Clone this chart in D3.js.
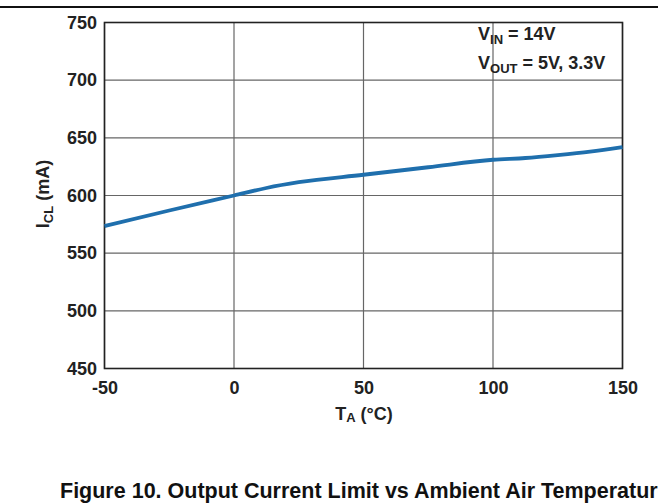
<!DOCTYPE html>
<html><head><meta charset="utf-8">
<script src="https://cdn.jsdelivr.net/npm/d3@7/dist/d3.min.js"></script>
<style>
html,body{margin:0;padding:0;background:#fff;overflow:hidden;}
svg{display:block;font-family:"Liberation Sans",Arial,sans-serif;}
</style></head><body>
<script>
const temps = [-50, -25, 0, 12.5, 25, 50, 75, 100, 112.5, 125, 137.5, 150];
const icl   = [573.5, 587, 600, 606.5, 611.5, 618, 624.5, 631, 632.5, 635, 638, 642];
const xTicks = [-50, 0, 50, 100, 150];
const yTicks = [450, 500, 550, 600, 650, 700, 750];

const W = 658, H = 503;
const m = {l: 104.5, r: 658 - 622.5, t: 22.5, b: 503 - 368.5};
const svg = d3.select("body").append("svg").attr("width", W).attr("height", H);

svg.append("line").attr("x1", 0).attr("x2", W).attr("y1", 7).attr("y2", 7)
  .attr("stroke", "#111").attr("stroke-width", 2);

const x = d3.scaleLinear().domain([-50, 150]).range([m.l, W - m.r]);
const y = d3.scaleLinear().domain([450, 750]).range([H - m.b, m.t]);

const g = svg.append("g");
g.selectAll(".vg").data(xTicks).enter().append("line")
  .attr("x1", d => x(d)).attr("x2", d => x(d)).attr("y1", y(750)).attr("y2", y(450))
  .attr("stroke", "#666").attr("stroke-width", 1.2);
g.selectAll(".hg").data(yTicks).enter().append("line")
  .attr("x1", x(-50)).attr("x2", x(150)).attr("y1", d => y(d)).attr("y2", d => y(d))
  .attr("stroke", "#666").attr("stroke-width", 1.2);
g.append("rect").attr("x", x(-50)).attr("y", y(750))
  .attr("width", x(150) - x(-50)).attr("height", y(450) - y(750))
  .attr("fill", "none").attr("stroke", "#222").attr("stroke-width", 1.6);

const fmt = d => String(d);
const xAxis = svg.append("g").attr("transform", `translate(0,${y(450)})`)
  .call(d3.axisBottom(x).tickValues(xTicks).tickSize(0).tickPadding(13).tickFormat(fmt));
const yAxis = svg.append("g").attr("transform", `translate(${x(-50)},0)`)
  .call(d3.axisLeft(y).tickValues(yTicks).tickSize(0).tickPadding(7.5).tickFormat(fmt));
[xAxis, yAxis].forEach(a => {
  a.select(".domain").remove();
  a.attr("font-size", 18).attr("font-family", "Liberation Sans, Arial, sans-serif");
  a.selectAll("text").attr("font-size", 18).attr("font-weight", "bold").attr("fill", "#222");
});

svg.append("path").datum(temps.map((t, i) => [t, icl[i]]))
  .attr("d", d3.line().x(d => x(d[0])).y(d => y(d[1])).curve(d3.curveMonotoneX))
  .attr("fill", "none").attr("stroke", "#1f6fad").attr("stroke-width", 3.8);

const xt = svg.append("text").attr("x", 364).attr("y", 420).attr("text-anchor", "middle")
  .attr("font-size", 18).attr("font-weight", "bold").attr("fill", "#222");
xt.append("tspan").text("T");
xt.append("tspan").attr("font-size", 13).attr("dy", 2).text("A");
xt.append("tspan").attr("dy", -2).text(" (°C)");

const yt = svg.append("text").attr("transform", "translate(49,194) rotate(-90)")
  .attr("text-anchor", "middle").attr("font-size", 18).attr("font-weight", "bold").attr("fill", "#222");
yt.append("tspan").text("I");
yt.append("tspan").attr("font-size", 13).attr("dy", 4).text("CL");
yt.append("tspan").attr("dy", -4).text(" (mA)");

const l1 = svg.append("text").attr("x", 478).attr("y", 40)
  .attr("font-size", 18).attr("font-weight", "bold").attr("fill", "#222");
l1.append("tspan").text("V");
l1.append("tspan").attr("font-size", 13).attr("dy", 4).text("IN");
l1.append("tspan").attr("dy", -4).text(" = 14V");
const l2 = svg.append("text").attr("x", 478).attr("y", 69)
  .attr("font-size", 18).attr("font-weight", "bold").attr("fill", "#222");
l2.append("tspan").text("V");
l2.append("tspan").attr("font-size", 13).attr("dy", 4).text("OUT");
l2.append("tspan").attr("dy", -4).text(" = 5V, 3.3V");

svg.append("text").attr("x", 60).attr("y", 498)
  .attr("font-size", 21.5).attr("font-weight", "bold").attr("fill", "#111")
  .text("Figure 10. Output Current Limit vs Ambient Air Temperature");
</script>
</body></html>
